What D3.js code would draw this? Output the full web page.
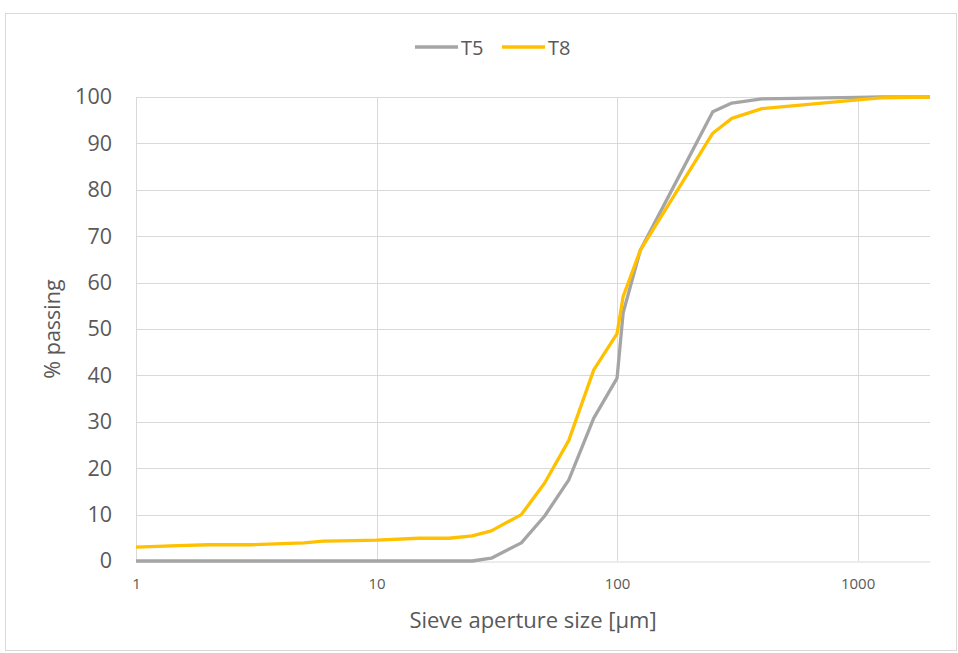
<!DOCTYPE html>
<html>
<head>
<meta charset="utf-8">
<script src="https://cdn.jsdelivr.net/npm/d3@7/dist/d3.min.js"></script>
<style>
  html, body { margin: 0; padding: 0; background: #fff; }
  svg text { font-family: "Open Sans", "DejaVu Sans", sans-serif; fill: #595959; }
</style>
</head>
<body>
<svg id="chart" width="958" height="653"></svg>
<script>
// Sieve apertures (µm) and cumulative % passing for each sample
const sizes = [1, 1.5, 2, 3, 5, 6, 8, 10, 15, 20, 25, 30, 40, 50, 63, 80, 100, 106, 125, 250, 300, 400, 1000, 1250, 2000];
const t5 = [0, 0, 0, 0, 0, 0, 0, 0, 0, 0, 0, 0.6, 3.9, 9.7, 17.5, 30.8, 39.4, 53.5, 67, 96.8, 98.7, 99.6, 99.9, 100, 100];
const t8 = [3.0, 3.3, 3.5, 3.5, 3.9, 4.3, 4.4, 4.5, 4.9, 4.9, 5.4, 6.5, 10.0, 16.8, 26, 41.2, 49, 57, 67, 92.2, 95.4, 97.5, 99.4, 99.8, 100];

const seriesNames = ["T5", "T8"];
const seriesColors = ["#a5a5a5", "#ffc000"];
const yTicks = [0, 10, 20, 30, 40, 50, 60, 70, 80, 90, 100];
const xTicks = [1, 10, 100, 1000];
const xTitle = "Sieve aperture size [µm]";
const yTitle = "% passing";

const svg = d3.select("#chart");
const W = 958, H = 653;
const plot = { left: 136, right: 930, top: 97, bottom: 561 };

// chart frame
svg.append("rect")
  .attr("x", 5.5).attr("y", 13.5)
  .attr("width", W - 7).attr("height", H - 16)
  .attr("fill", "#fff").attr("stroke", "#d9d9d9").attr("stroke-width", 1);

const x = d3.scaleLog().domain([1, 2000]).range([plot.left, plot.right]);
const y = d3.scaleLinear().domain([0, 100]).range([plot.bottom, plot.top]);

// horizontal gridlines
svg.append("g").selectAll("line").data(yTicks.filter(d => d > 0)).join("line")
  .attr("x1", plot.left).attr("x2", plot.right)
  .attr("y1", d => Math.round(y(d)) + 0.5).attr("y2", d => Math.round(y(d)) + 0.5)
  .attr("stroke", "#d9d9d9").attr("stroke-width", 1);

// vertical gridlines at each decade
svg.append("g").selectAll("line").data(xTicks).join("line")
  .attr("x1", d => Math.round(x(d)) + 0.5).attr("x2", d => Math.round(x(d)) + 0.5)
  .attr("y1", plot.top).attr("y2", plot.bottom)
  .attr("stroke", "#d9d9d9").attr("stroke-width", 1);

// x axis
const xAxis = d3.axisBottom(x).tickValues(xTicks).tickFormat(d3.format("d")).tickSize(0).tickPadding(17);
const gx = svg.append("g").attr("transform", `translate(0,${Math.round(plot.bottom) + 0.5})`).call(xAxis);
gx.select(".domain").attr("stroke", "#d9d9d9");
gx.selectAll("text").style("font-size", "15px").attr("fill", "#595959");

// y axis
const yAxis = d3.axisLeft(y).tickValues(yTicks).tickSize(0).tickPadding(24);
const gy = svg.append("g").attr("transform", `translate(${plot.left},0)`).call(yAxis);
gy.select(".domain").remove();
gy.selectAll("text").style("font-size", "21.5px").attr("fill", "#595959");

// axis titles
svg.append("text")
  .attr("x", 533).attr("y", 628)
  .attr("text-anchor", "middle").style("font-size", "22px")
  .text(xTitle);
svg.append("text")
  .attr("transform", `translate(60,${(plot.top + plot.bottom) / 2}) rotate(-90)`)
  .attr("text-anchor", "middle").style("font-size", "21.5px")
  .text(yTitle);

// series lines
const line = d3.line().x(d => x(d[0])).y(d => y(d[1]));
[t5, t8].forEach((vals, i) => {
  svg.append("path")
    .datum(sizes.map((s, j) => [s, vals[j]]))
    .attr("d", line)
    .attr("fill", "none")
    .attr("stroke", seriesColors[i])
    .attr("stroke-width", 3.3)
    .attr("stroke-linejoin", "round");
});

// legend
const legendItems = [
  { name: seriesNames[0], color: seriesColors[0], x: 415 },
  { name: seriesNames[1], color: seriesColors[1], x: 502 }
];
const lg = svg.append("g");
legendItems.forEach(it => {
  lg.append("line")
    .attr("x1", it.x).attr("x2", it.x + 43)
    .attr("y1", 47).attr("y2", 47)
    .attr("stroke", it.color).attr("stroke-width", 3.3);
  lg.append("text")
    .attr("x", it.x + 46).attr("y", 55)
    .style("font-size", "20px")
    .text(it.name);
});
</script>
</body>
</html>
